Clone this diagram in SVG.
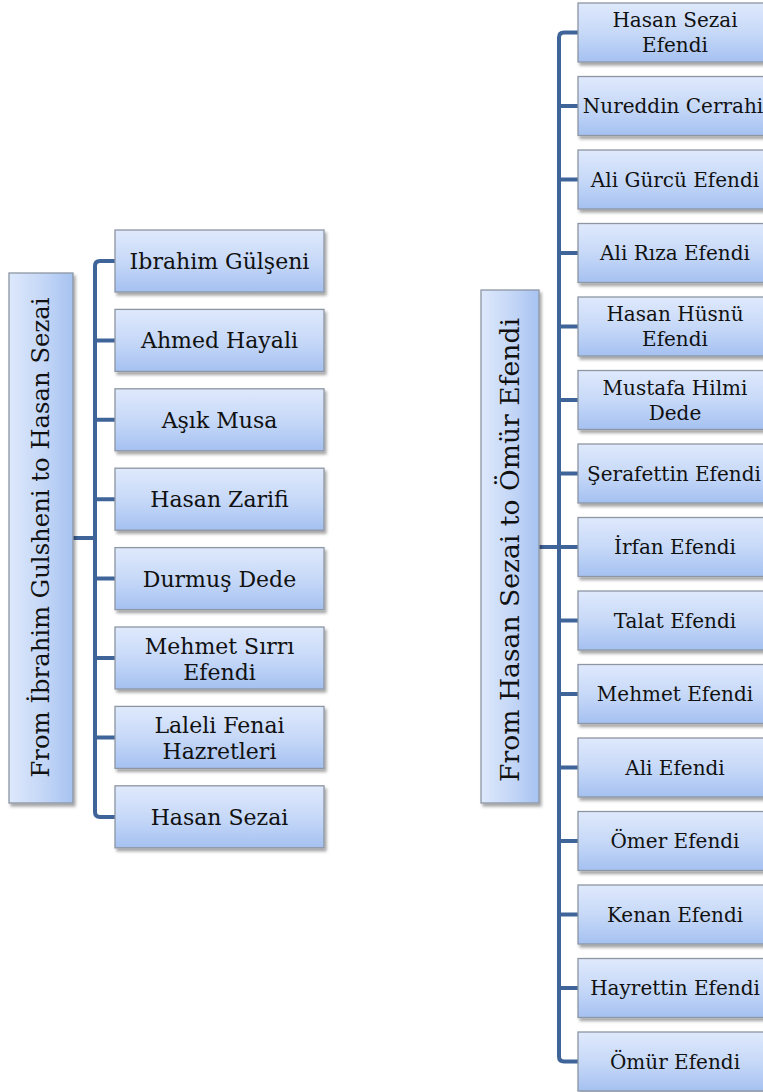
<svg xmlns="http://www.w3.org/2000/svg" width="763" height="1092" viewBox="0 0 763 1092">
<defs>
<linearGradient id="g" x1="0" y1="0" x2="0" y2="1">
<stop offset="0" stop-color="#dfe9fc"/>
<stop offset="0.5" stop-color="#c7d9f8"/>
<stop offset="1" stop-color="#a5c1f1"/>
</linearGradient>
<linearGradient id="gr" x1="0" y1="0" x2="1" y2="0">
<stop offset="0" stop-color="#dde8fb"/>
<stop offset="0.5" stop-color="#c6d8f7"/>
<stop offset="1" stop-color="#a7c3f1"/>
</linearGradient>
<filter id="sh" x="-10%" y="-10%" width="130%" height="140%">
<feDropShadow dx="2" dy="3" stdDeviation="1.8" flood-color="#000" flood-opacity="0.35"/>
</filter>
</defs>
<style>
.box{fill:url(#g);stroke:#8d96a3;stroke-width:1.3;filter:url(#sh)}
.root{fill:url(#gr);stroke:#8d96a3;stroke-width:1.3;filter:url(#sh)}
.t{font-family:"DejaVu Serif","Liberation Serif",serif;fill:#111;text-anchor:middle}
.l{font-size:22px}
.r{font-size:20px}
.c{fill:none;stroke:#3f6499;stroke-width:4;stroke-linejoin:round}
</style>
<g id="connectors">
<path class="c" d="M73,538 H95"/>
<path class="c" d="M115,261 H100 Q95,261 95,266 V812 Q95,817 100,817 H115"/>
<path class="c" d="M95,340.4 H115 M95,419.8 H115 M95,499.2 H115 M95,578.6 H115 M95,658 H115 M95,737.4 H115"/>
<path class="c" d="M539,547 H559"/>
<path class="c" d="M578,32.5 H564 Q559,32.5 559,37.5 V1056.5 Q559,1061.5 564,1061.5 H578"/>
<path class="c" d="M559,106 H578 M559,179.5 H578 M559,253 H578 M559,326.5 H578 M559,400 H578 M559,473.5 H578 M559,547 H578 M559,620.5 H578 M559,694 H578 M559,767.5 H578 M559,841 H578 M559,914.5 H578 M559,988 H578"/>
</g>
<g id="root-left"><rect class="root" x="9" y="273" width="64" height="530"/><text class="t" font-size="24.3" transform="translate(49,537.5) rotate(-90)">From İbrahim Gulsheni to Hasan Sezai</text></g>
<g id="root-right"><rect class="root" x="481" y="290" width="58" height="513"/><text class="t" font-size="26.6" transform="translate(519,550) rotate(-90)">From Hasan Sezai to Ömür Efendi</text></g>
<g id="l1"><rect class="box" x="115" y="230" width="209" height="62"/><text class="t l" x="219.5" y="269">Ibrahim Gülşeni</text></g>
<g id="l2"><rect class="box" x="115" y="309.4" width="209" height="62"/><text class="t l" x="219.5" y="348.4">Ahmed Hayali</text></g>
<g id="l3"><rect class="box" x="115" y="388.8" width="209" height="62"/><text class="t l" x="219.5" y="427.8">Aşık Musa</text></g>
<g id="l4"><rect class="box" x="115" y="468.2" width="209" height="62"/><text class="t l" x="219.5" y="507.2">Hasan Zarifi</text></g>
<g id="l5"><rect class="box" x="115" y="547.6" width="209" height="62"/><text class="t l" x="219.5" y="586.6">Durmuş Dede</text></g>
<g id="l6"><rect class="box" x="115" y="627" width="209" height="62"/><text class="t l" x="219.5" y="654">Mehmet Sırrı</text><text class="t l" x="219.5" y="680">Efendi</text></g>
<g id="l7"><rect class="box" x="115" y="706.4" width="209" height="62"/><text class="t l" x="219.5" y="733.4">Laleli Fenai</text><text class="t l" x="219.5" y="759.4">Hazretleri</text></g>
<g id="l8"><rect class="box" x="115" y="785.8" width="209" height="62"/><text class="t l" x="219.5" y="824.8">Hasan Sezai</text></g>
<g id="r1"><rect class="box" x="578" y="3" width="194" height="59"/><text class="t r" x="675" y="27">Hasan Sezai</text><text class="t r" x="675" y="52">Efendi</text></g>
<g id="r2"><rect class="box" x="578" y="76.5" width="194" height="59"/><text class="t r" x="673" y="113">Nureddin Cerrahi</text></g>
<g id="r3"><rect class="box" x="578" y="150" width="194" height="59"/><text class="t r" x="675" y="186.5">Ali Gürcü Efendi</text></g>
<g id="r4"><rect class="box" x="578" y="223.5" width="194" height="59"/><text class="t r" x="675" y="260">Ali Rıza Efendi</text></g>
<g id="r5"><rect class="box" x="578" y="297" width="194" height="59"/><text class="t r" x="675" y="321">Hasan Hüsnü</text><text class="t r" x="675" y="346">Efendi</text></g>
<g id="r6"><rect class="box" x="578" y="370.5" width="194" height="59"/><text class="t r" x="675" y="394.5">Mustafa Hilmi</text><text class="t r" x="675" y="419.5">Dede</text></g>
<g id="r7"><rect class="box" x="578" y="444" width="194" height="59"/><text class="t r" x="674" y="480.5">Şerafettin Efendi</text></g>
<g id="r8"><rect class="box" x="578" y="517.5" width="194" height="59"/><text class="t r" x="675" y="554">İrfan Efendi</text></g>
<g id="r9"><rect class="box" x="578" y="591" width="194" height="59"/><text class="t r" x="675" y="627.5">Talat Efendi</text></g>
<g id="r10"><rect class="box" x="578" y="664.5" width="194" height="59"/><text class="t r" x="675" y="701">Mehmet Efendi</text></g>
<g id="r11"><rect class="box" x="578" y="738" width="194" height="59"/><text class="t r" x="675" y="774.5">Ali Efendi</text></g>
<g id="r12"><rect class="box" x="578" y="811.5" width="194" height="59"/><text class="t r" x="675" y="848">Ömer Efendi</text></g>
<g id="r13"><rect class="box" x="578" y="885" width="194" height="59"/><text class="t r" x="675" y="921.5">Kenan Efendi</text></g>
<g id="r14"><rect class="box" x="578" y="958.5" width="194" height="59"/><text class="t r" x="675" y="995">Hayrettin Efendi</text></g>
<g id="r15"><rect class="box" x="578" y="1032" width="194" height="59"/><text class="t r" x="675" y="1068.5">Ömür Efendi</text></g>
</svg>
